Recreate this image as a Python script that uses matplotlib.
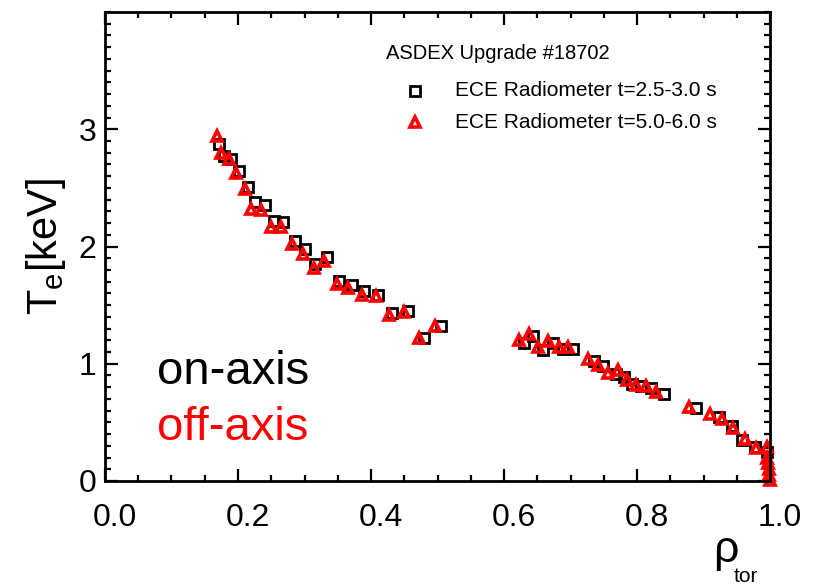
import matplotlib
matplotlib.use("Agg")
import matplotlib.pyplot as plt
from matplotlib.ticker import MultipleLocator
from matplotlib.transforms import ScaledTranslation

plt.rcParams["font.family"] = ["Liberation Sans", "DejaVu Sans"]
plt.rcParams["mathtext.fontset"] = "custom"
plt.rcParams["mathtext.rm"] = "Liberation Sans"
plt.rcParams["mathtext.it"] = "Liberation Sans:italic"

# ---------------- Data ----------------
rho_on = [0.172, 0.179, 0.190, 0.202, 0.215, 0.225, 0.240, 0.254, 0.267, 0.286,
          0.301, 0.316, 0.334, 0.352, 0.371, 0.389, 0.411, 0.432, 0.456, 0.480,
          0.505, 0.630, 0.644, 0.659, 0.674, 0.689, 0.703, 0.735, 0.749, 0.768,
          0.780, 0.793, 0.806, 0.821, 0.840, 0.889, 0.923, 0.943, 0.958, 0.978,
          0.995]
te_on = [2.87, 2.77, 2.75, 2.64, 2.51, 2.38, 2.35, 2.22, 2.21, 2.05,
         1.98, 1.85, 1.91, 1.71, 1.67, 1.62, 1.59, 1.43, 1.45, 1.22,
         1.32, 1.18, 1.24, 1.12, 1.18, 1.13, 1.13, 1.02, 0.98, 0.91,
         0.89, 0.83, 0.81, 0.79, 0.74, 0.62, 0.55, 0.47, 0.35, 0.29,
         0.25]

rho_off = [0.168, 0.174, 0.186, 0.197, 0.210, 0.220, 0.235, 0.249, 0.264, 0.281,
           0.297, 0.314, 0.330, 0.349, 0.366, 0.386, 0.407, 0.427, 0.450, 0.472,
           0.496, 0.623, 0.637, 0.651, 0.666, 0.682, 0.696, 0.726, 0.741, 0.756,
           0.771, 0.785, 0.799, 0.814, 0.829, 0.878, 0.909, 0.928, 0.945, 0.962,
           0.979, 0.995, 0.996, 0.997, 0.998, 0.999, 1.000]
te_off = [2.94, 2.80, 2.75, 2.63, 2.49, 2.32, 2.31, 2.17, 2.17, 2.02,
          1.94, 1.82, 1.88, 1.68, 1.65, 1.59, 1.58, 1.42, 1.44, 1.22,
          1.32, 1.20, 1.25, 1.14, 1.19, 1.14, 1.14, 1.04, 0.99, 0.92,
          0.95, 0.86, 0.82, 0.81, 0.76, 0.63, 0.57, 0.53, 0.45, 0.36,
          0.28, 0.29, 0.20, 0.15, 0.10, 0.05, 0.01]

title = "ASDEX Upgrade #18702"
label_on = "ECE Radiometer t=2.5-3.0 s"
label_off = "ECE Radiometer t=5.0-6.0 s"

# ---------------- Figure ----------------
fig = plt.figure(figsize=(8.19, 5.86), dpi=100)
ax = fig.add_axes([0.1282, 0.1792, 0.8120, 0.8003])

sq_style = dict(ls="none", marker="s", ms=7, mfc="none", mec="black", mew=2.0)
tri_style = dict(ls="none", marker="^", ms=7, mfc="none", mec="red", mew=2.6)

ax.plot(rho_on, te_on, clip_on=False, **sq_style)
ax.plot(rho_off, te_off, clip_on=False, **tri_style)

ax.set_xlim(0, 1)
ax.set_ylim(0, 4)
ax.xaxis.set_major_locator(MultipleLocator(0.2))
ax.xaxis.set_minor_locator(MultipleLocator(0.05))
ax.yaxis.set_minor_locator(MultipleLocator(0.1))
ax.set_yticks([0, 1, 2, 3])
ax.xaxis.set_major_formatter(plt.FuncFormatter(lambda v, p: f"{v:.1f}"))

ax.tick_params(which="both", direction="in", top=True, right=True,
               width=1.6, labelsize=23)
ax.tick_params(axis="x", pad=16)
ax.tick_params(axis="y", pad=6)
ax.tick_params(which="major", length=9)
ax.tick_params(which="minor", length=4)
for s in ax.spines.values():
    s.set_linewidth(2.0)

# x tick labels sit a little right of their ticks in the original
shift = ScaledTranslation(10 / 100, 0, fig.dpi_scale_trans)
for lab in ax.get_xticklabels():
    lab.set_transform(lab.get_transform() + shift)

ax.set_ylabel(r"T$_{\rm e}$[keV]", fontsize=30, labelpad=8)
fig.text(0.886, 0.060, "ρ", fontsize=32, ha="center", va="center")
fig.text(0.911, 0.016, "tor", fontsize=15, ha="center", va="center")

# legend block drawn as text, as in the original
ax.text(0.423, 0.912, title, transform=ax.transAxes, fontsize=14.5,
        ha="left", va="center")
ax.plot([0.466], [0.832], transform=ax.transAxes, clip_on=False, **sq_style)
ax.text(0.526, 0.832, label_on, transform=ax.transAxes, fontsize=15,
        ha="left", va="center")
ax.plot([0.466], [0.765], transform=ax.transAxes, clip_on=False, **tri_style)
ax.text(0.526, 0.765, label_off, transform=ax.transAxes, fontsize=15,
        ha="left", va="center")

ax.text(0.078, 0.232, "on-axis", transform=ax.transAxes, fontsize=34,
        color="black", ha="left", va="center")
ax.text(0.078, 0.113, "off-axis", transform=ax.transAxes, fontsize=34,
        color="red", ha="left", va="center")

fig.savefig("out.png", dpi=100)
